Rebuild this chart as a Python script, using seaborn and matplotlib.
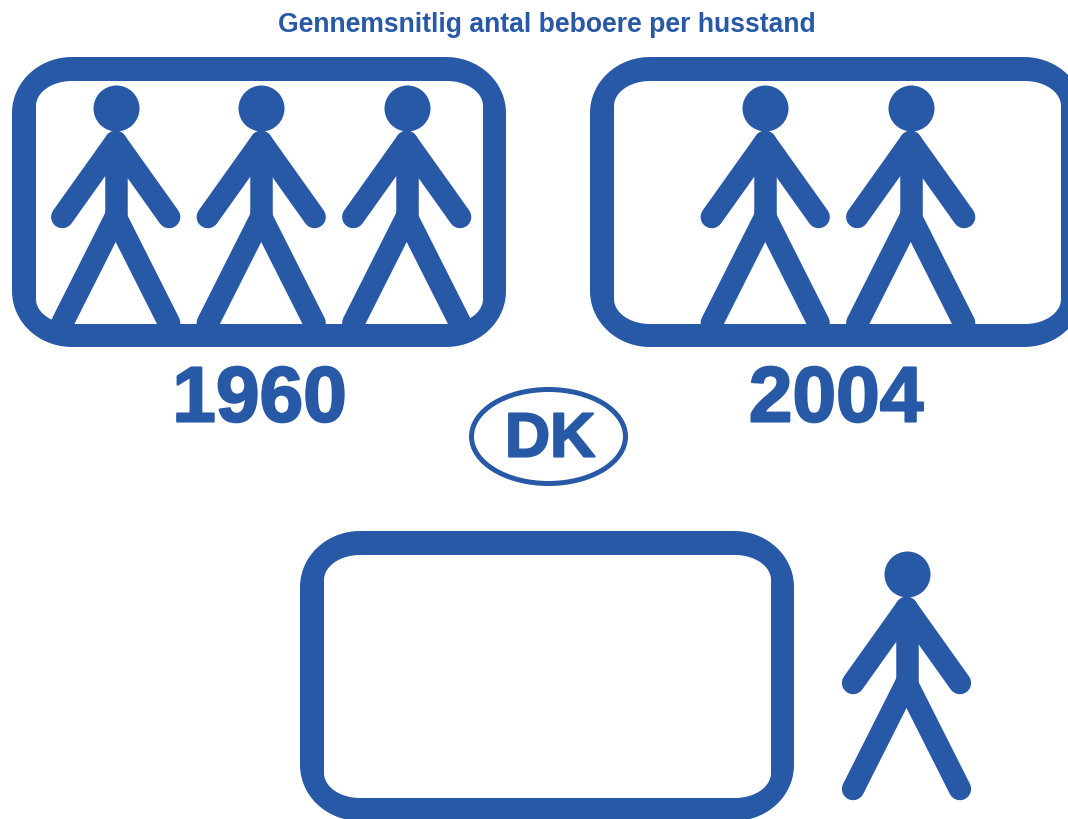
import matplotlib
matplotlib.use('Agg')
import matplotlib.pyplot as plt
from matplotlib.patches import Ellipse, PathPatch
from matplotlib.path import Path
import matplotlib.patheffects as pe
import numpy as np
import pandas as pd
import seaborn as sns

title = 'Gennemsnitlig antal beboere per husstand'
years = ['1960', '2004']
persons = [3, 2]
key_label = 'DK'
key_persons = 1

BLUE = '#2759a6'
LW = 22.5 * 72 / 100  # px at 100 dpi
FONT = 'Liberation Sans'

sns.set_theme(style='white')
plt.rcParams['font.family'] = [FONT, 'DejaVu Sans']

fig, ax = plt.subplots(figsize=(10.68, 8.2), dpi=100)
fig.subplots_adjust(0, 0, 1, 1)


def round_rect(x0, y0, x1, y1, rx, ry):
    # closed outline with elliptical corners
    t = np.linspace(0, np.pi / 2, 24)
    pts = []
    for cx, cy, sx, sy, tt in [(x1 - rx, y0 + ry, 1, -1, t[::-1]),
                               (x1 - rx, y1 - ry, 1, 1, t),
                               (x0 + rx, y1 - ry, -1, 1, t[::-1]),
                               (x0 + rx, y0 + ry, -1, -1, t)]:
        pts.append(np.column_stack([cx + sx * rx * np.cos(tt), cy + sy * ry * np.sin(tt)]))
    return np.vstack(pts)


def draw_box(left, top):
    outer = round_rect(left, top, left + 494, top + 290, 60, 56)
    inner = round_rect(left + 24, top + 24, left + 471, top + 267, 36, 25)[::-1]
    verts = np.vstack([outer, outer[:1], inner, inner[:1]])
    codes = ([Path.MOVETO] + [Path.LINETO] * (len(outer) - 1) + [Path.CLOSEPOLY]) * 2
    ax.add_patch(PathPatch(Path(verts, codes), fc=BLUE, ec='none'))


def draw_person(x, y):
    # x, y is the centre of the head
    neck = y + 34
    hip = y + 109
    ax.plot([x, x], [neck, hip], color=BLUE, lw=LW, solid_capstyle='butt')
    for side in (-1, 1):
        ax.plot([x + side * 53.4, x], [y + 109, neck],
                color=BLUE, lw=LW, solid_capstyle='round')
        ax.plot([x, x + side * 53.4], [hip, y + 215],
                color=BLUE, lw=LW, solid_capstyle='round')
    return x, y


heads = []
box_lefts = [12, 590]
first_head = [115.7, 765.2]
for left, first, n in zip(box_lefts, first_head, persons):
    draw_box(left, 57)
    for i in range(n):
        heads.append(draw_person(first + i * 145.5, 108))

draw_box(300, 531)
for i in range(key_persons):
    heads.append(draw_person(906.5, 574))

head_df = pd.DataFrame(heads, columns=['x', 'y'])
sns.scatterplot(data=head_df, x='x', y='y', s=(46 * 72 / 100) ** 2, color=BLUE,
                linewidth=0, legend=False, ax=ax, zorder=3)

ax.add_patch(Ellipse((548.5, 436.5), 154, 94, fc='none', ec=BLUE, lw=5 * 72 / 100))

ax.text(546.5, 24, title, color=BLUE, fontsize=19.1, fontweight='bold', ha='center', va='center')
thick = [pe.withStroke(linewidth=1.5, foreground=BLUE, joinstyle='round')]
for x, year in zip([259.5, 836], years):
    ax.text(x, 401, year, color=BLUE, fontsize=56.5, fontweight='bold', ha='center', va='center',
            path_effects=thick)
ax.text(550, 440, key_label, color=BLUE, fontsize=45, fontweight='bold', ha='center', va='center',
        path_effects=thick)

ax.set_xlim(0, 1068)
ax.set_ylim(819, -1)
ax.axis('off')

fig.savefig('out.png', dpi=100)
